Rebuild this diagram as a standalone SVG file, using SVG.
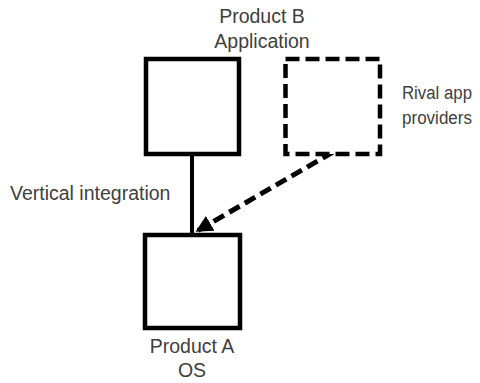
<svg xmlns="http://www.w3.org/2000/svg" width="480" height="383" viewBox="0 0 480 383">
<style>
.t{font-family:"Liberation Sans",Arial,sans-serif;font-size:19.5px;fill:#404040}
.r{font-size:18px}
.box{fill:#fff;stroke:#000;stroke-width:4.5}
.dbox{fill:#fff;stroke:#000;stroke-width:4.5;stroke-dasharray:14 6}
</style>
<defs>
<marker id="ah" viewBox="0 0 10 10" refX="9" refY="5" markerWidth="3.4" markerHeight="3.4" orient="auto" markerUnits="strokeWidth">
<path d="M0,0 L10,5 L0,10 z" fill="#000"/>
</marker>
</defs>
<rect width="480" height="383" fill="#fff"/>
<g id="connectors">
<line x1="192" y1="156" x2="192" y2="233" stroke="#000" stroke-width="4"/>
<line x1="333" y1="152" x2="197" y2="231" stroke="#000" stroke-width="5" stroke-dasharray="12 6" marker-end="url(#ah)"/>
</g>
<g id="productB">
<rect class="box" x="146" y="59" width="93" height="95"/>
<text class="t" x="262" y="23" text-anchor="middle">Product B</text>
<text class="t" x="262" y="48" text-anchor="middle">Application</text>
</g>
<g id="rival">
<rect class="dbox" x="285.5" y="59" width="94.5" height="95"/>
<text class="t r" x="402" y="99" textLength="70" lengthAdjust="spacingAndGlyphs">Rival app</text>
<text class="t r" x="402" y="124" textLength="70" lengthAdjust="spacingAndGlyphs">providers</text>
</g>
<g id="productA">
<rect class="box" x="145" y="235" width="95" height="93"/>
<text class="t" x="192" y="353" text-anchor="middle">Product A</text>
<text class="t" x="192" y="377" text-anchor="middle">OS</text>
</g>
<g id="vi-label">
<text class="t" x="10" y="200">Vertical integration</text>
</g>
</svg>
